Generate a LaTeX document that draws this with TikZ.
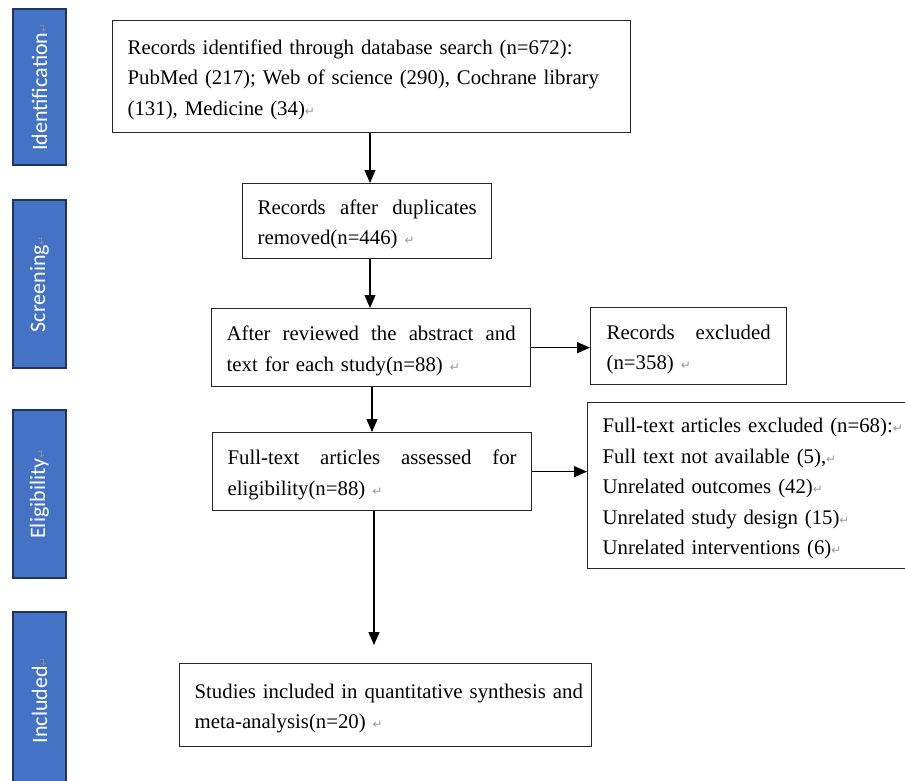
\documentclass[tikz,border=0pt]{standalone}
\usepackage{fontspec}
\setmainfont{Liberation Serif}
\newfontfamily\sidefont{Carlito}
\newfontfamily\symfont{DejaVu Sans}
\usetikzlibrary{arrows.meta}
\definecolor{barblue}{HTML}{4472C4}
\definecolor{baredge}{HTML}{1F3460}
\newcommand\retmark{{\color{black!40}\symfont\fontsize{12}{12}\selectfont ↵}}
\newcommand\sideret{{\color{black!45}\symfont\fontsize{11}{11}\selectfont ↵}}
\newcommand\topstrut{\rule{0pt}{21pt}}
\begin{document}
\begin{tikzpicture}[x=1pt,y=-1pt,
  box/.style={draw=black!85, line width=1.3pt, rectangle, inner xsep=15pt, inner ysep=0pt,
    align=left, anchor=north west, font=\fontsize{20.8}{30.5}\selectfont},
  bar/.style={draw=baredge, fill=barblue, line width=1.6pt, rectangle, rotate=90,
    minimum height=53pt, inner sep=0pt, text=white, font=\sidefont\fontsize{22}{22}\selectfont},
  arr/.style={line width=1.3pt, -{Triangle[length=13pt,width=11pt]}}]
\useasboundingbox (0,0) rectangle (905,780);
\clip (0,0) rectangle (905,780);
\fill[white] (0,0) rectangle (905,780);

% side bars
\node[bar, minimum width=156pt] (sid) at (39.5,87) {Identification\sideret};
\node[bar, minimum width=168pt] (sscr) at (39.5,284) {Screening\sideret};
\node[bar, minimum width=168pt] (seli) at (39.5,494) {Eligibility\sideret};
\node[bar, minimum width=176pt] (sinc) at (39.5,700) {Included\sideret};

% boxes
\node[box, text width=488pt, minimum height=112pt] (b1) at (112,20)
  {\topstrut Records identified through database search (n=672):\\
   PubMed (217); Web of science (290), Cochrane library\\
   (131), Medicine (34)\retmark};
\node[box, text width=219pt, minimum height=75pt] (b2) at (242,183)
  {\topstrut Records\hfill after\hfill duplicates\\ removed(n=446) \retmark};
\node[box, text width=289pt, minimum height=78pt] (b3) at (211,308)
  {\topstrut After\hfill reviewed\hfill the\hfill abstract\hfill and\\ text for each study(n=88) \retmark};
\node[box, text width=164pt, inner xsep=16pt, minimum height=77pt] (b4) at (590,307)
  {\topstrut Records\hfill excluded\\ (n=358) \retmark};
\node[box, text width=289pt, minimum height=78pt] (b5) at (212,432)
  {\topstrut Full-text\hfill articles\hfill assessed\hfill for\\ eligibility(n=88) \retmark};
\node[box, text width=310pt, minimum height=166pt] (b6) at (587,402)
  {\topstrut Full-text articles excluded (n=68):\retmark\\
   Full text not available (5),\retmark\\
   Unrelated outcomes (42)\retmark\\
   Unrelated study design (15)\retmark\\
   Unrelated interventions (6)\retmark};
\node[box, text width=382pt, minimum height=83pt] (b7) at (179,663)
  {\topstrut\makebox[\linewidth][s]{Studies included in quantitative synthesis and}\\ meta-analysis(n=20) \retmark};

% connectors
\coordinate (xa) at (370,0);
\coordinate (xb) at (372,0);
\coordinate (xc) at (374,0);
\draw[arr] (b1.south -| xa) -- (b2.north -| xa);
\draw[arr] (b2.south -| xa) -- (b3.north -| xa);
\draw[arr] (b3.east) -- (b3.east -| b4.west);
\draw[arr] (b3.south -| xb) -- (b5.north -| xb);
\draw[arr] (b5.east) -- (b5.east -| b6.west);
\draw[arr, shorten >=18pt] (b5.south -| xc) -- (b7.north -| xc);
\end{tikzpicture}
\end{document}
